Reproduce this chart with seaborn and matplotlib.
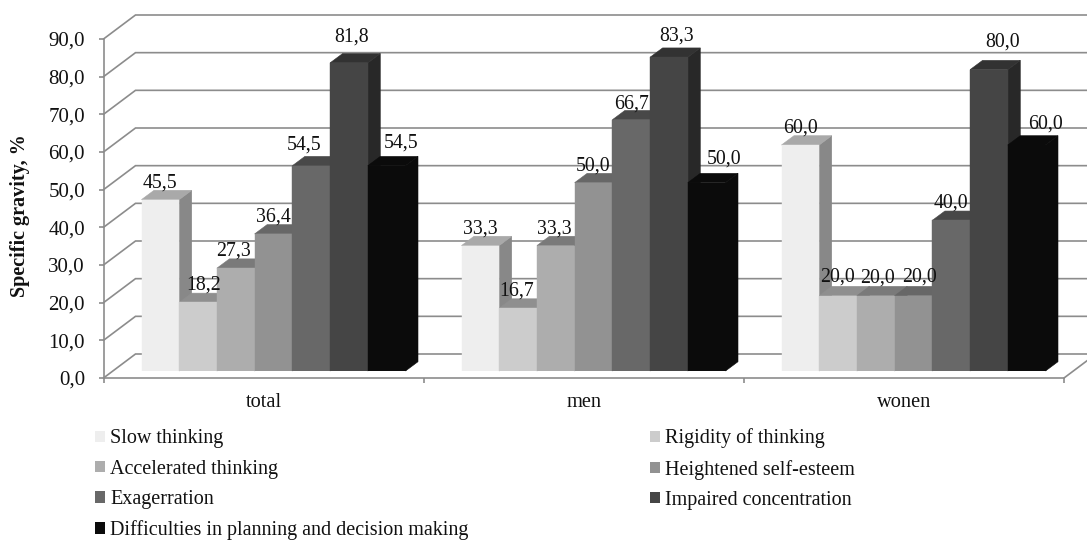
import matplotlib
matplotlib.use("Agg")
import matplotlib.pyplot as plt
from matplotlib.patches import Patch, Polygon
import pandas as pd
import seaborn as sns

# Survey shares by group, in percent
groups = ["total", "men", "wonen"]
symptoms = [
    "Slow thinking",
    "Rigidity of thinking",
    "Accelerated thinking",
    "Heightened self-esteem",
    "Exagerration",
    "Impaired concentration",
    "Difficulties in planning and decision making",
]
total_values = [45.5, 18.2, 27.3, 36.4, 54.5, 81.8, 54.5]
men_values = [33.3, 16.7, 33.3, 50.0, 66.7, 83.3, 50.0]
women_values = [60.0, 20.0, 20.0, 20.0, 40.0, 80.0, 60.0]

# Face colours of the extruded columns
front_colors = ["#EEEEEE", "#CCCCCC", "#ADADAD", "#929292", "#686868", "#454545", "#0B0B0B"]
top_colors = ["#A9A9A9", "#8F8F8F", "#7A7A7A", "#676767", "#484848", "#323232", "#0B0B0B"]
side_colors = ["#888888", "#7A7A7A", "#6A6A6A", "#5A5A5A", "#3C3C3C", "#282828", "#0B0B0B"]

GRID = "#8C8C8C"
W, H, DPI = 1087, 540, 100

# Label nudges in pixels, one row per group
label_dx = [
    [0, 6, -2, 0, -7, 3, 14],
    [0, -1, -1, 0, 0, 8, 17],
    [0, -1, 2, 6, 0, 14, 19],
]
label_dy = [
    [17, 17, 17, 17, 21, 26, 23],
    [17, 17, 17, 17, 16, 21, 24],
    [17, 19, 18, 19, 17, 28, 21],
]

sns.set_theme(style="white")
plt.rcParams["font.family"] = ["Liberation Serif", "DejaVu Serif"]

df = pd.DataFrame({
    "group": [g for g in groups for _ in symptoms],
    "symptom": symptoms * len(groups),
    "share": total_values + men_values + women_values,
})

fig = plt.figure(figsize=(W / DPI, H / DPI), dpi=DPI, facecolor="white")


def axes_from_pixels(left, top, right, bottom):
    return fig.add_axes([left / W, 1 - bottom / H, (right - left) / W, (bottom - top) / H])


# Front frame: value axis and category axis
X0, X1 = 103.5, 1064.0
ax = axes_from_pixels(X0, 39, X1, 378)
ax.set_xlim(0, 3)
ax.set_ylim(0, 90)
ax.patch.set_alpha(0)
for name in ("top", "right"):
    ax.spines[name].set_visible(False)
for name in ("left", "bottom"):
    ax.spines[name].set_color(GRID)
    ax.spines[name].set_linewidth(1.2)

ticks = list(range(0, 100, 10))
ax.set_yticks(ticks, [f"{t:.1f}".replace(".", ",") for t in ticks], fontsize=15, color="#111111")
ax.set_xticks([0, 1, 2, 3], [""] * 4)
ax.set_xticks([0.5, 1.5, 2.5], groups, minor=True, fontsize=14.7, color="#111111")
ax.tick_params(axis="both", which="major", length=3.8, width=1.2, color=GRID, left=True, bottom=True)
ax.tick_params(axis="y", pad=9.5)
ax.tick_params(axis="x", which="minor", length=0, pad=11)

# Back wall and floor, receding up and to the right
wall_dx = 32 / ((X1 - X0) / 3)
wall_dy = 24 / (339 / 90)
for t in ticks:
    ax.plot([0, wall_dx, 3 + wall_dx], [t, t + wall_dy, t + wall_dy], color=GRID, lw=1.2,
            clip_on=False, zorder=1, solid_joinstyle="miter")
ax.plot([3, 3 + wall_dx], [0, wall_dy], color=GRID, lw=1.2, clip_on=False, zorder=1)

ax.set_ylabel("Specific gravity, %", fontsize=14.5, fontweight="bold", color="#111111")
ax.yaxis.set_label_coords((30 - X0) / (X1 - X0), (378 - 216) / 339)

# Columns stand slightly in front of the wall, on their own transparent axes
ax_bars = axes_from_pixels(X0, 32, X1, 371)
sns.barplot(
    data=df, x="group", y="share", hue="symptom", order=groups, hue_order=symptoms,
    palette=front_colors, saturation=1, width=0.825, gap=0, legend=False, linewidth=0, ax=ax_bars,
)
ax_bars.set_xlim(-(273.5 - X0) / 320, 2 + (X1 - 913.5) / 320)
ax_bars.set_ylim(0, 90)
ax_bars.set_axis_off()

depth_x = 12.5 / 320
depth_y = 9.3 / (339 / 90)

for i, container in enumerate(ax_bars.containers):
    for j, bar in enumerate(container.patches):
        left, right, h = bar.get_x(), bar.get_x() + bar.get_width(), bar.get_height()
        z = 3 + i
        bar.set_zorder(z)
        bar.set_edgecolor(front_colors[i])
        bar.set_linewidth(0.3)
        ax_bars.add_patch(Polygon(
            [(right, 0), (right + depth_x, depth_y), (right + depth_x, h + depth_y), (right, h)],
            closed=True, facecolor=side_colors[i], edgecolor=side_colors[i], linewidth=0.4,
            zorder=z - 0.5, clip_on=False))
        ax_bars.add_patch(Polygon(
            [(left, h), (left + depth_x, h + depth_y), (right + depth_x, h + depth_y), (right, h)],
            closed=True, facecolor=top_colors[i], edgecolor=top_colors[i], linewidth=0.4,
            zorder=z - 0.5, clip_on=False))
        ax_bars.annotate(
            f"{h:.1f}".replace(".", ","),
            xy=((left + right) / 2, h),
            xytext=(label_dx[j][i], label_dy[j][i]),
            textcoords="offset pixels", ha="center", va="center",
            fontsize=14.3, color="#111111", zorder=20, annotation_clip=False,
        )

# Two-column legend, filled column by column
handles = [Patch(facecolor=c, edgecolor="none", label=s) for c, s in zip(front_colors, symptoms)]
order = [0, 2, 4, 6, 1, 3, 5]
fig.legend(
    handles=[handles[k] for k in order],
    loc="upper left", bbox_to_anchor=(95 / W, 1 - 428.5 / H), ncols=2, frameon=False,
    fontsize=14.5, borderpad=0, borderaxespad=0, labelspacing=0.56,
    handlelength=0.5, handleheight=0.5, handletextpad=0.25, columnspacing=9.0,
    labelcolor="#111111",
)

fig.savefig("out.png", dpi=DPI, facecolor="white")
